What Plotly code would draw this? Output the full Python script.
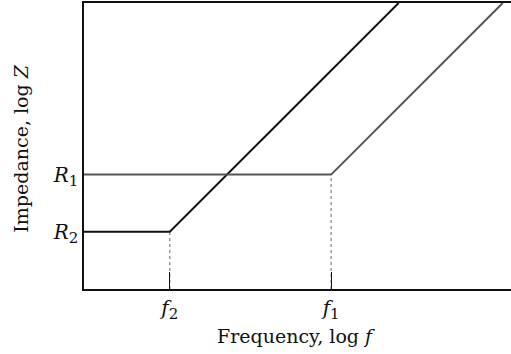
import plotly.graph_objects as go

# Break frequencies and low-frequency impedance levels (log units)
sub = "<sub><span style='font-size:15px'>{}</span></sub>"
f_labels = ["<i>f</i>" + sub.format("2"), "<i>f</i>" + sub.format("1")]
f_breaks = [3.0, 8.64]
r_labels = ["<i>R</i>" + sub.format("2"), "<i>R</i>" + sub.format("1")]
r_levels = [2.0, 4.0]
line_colors = ["#111111", "#555555"]

x_max = 14.93
y_max = 10.0

fig = go.Figure()

# Dotted guides from each break point down to the frequency axis
for fb, rl in zip(f_breaks, r_levels):
    fig.add_trace(go.Scatter(
        x=[fb, fb], y=[0, rl], mode="lines",
        line=dict(color="#666666", width=1, dash="dot"),
        hoverinfo="skip", showlegend=False))

# Impedance asymptotes: flat at R, then rising with unit slope past the break
for fb, rl, col in zip(f_breaks, r_levels, line_colors):
    x_top = fb + (y_max - rl)
    fig.add_trace(go.Scatter(
        x=[0, fb, x_top], y=[rl, rl, y_max], mode="lines",
        line=dict(color=col, width=2),
        hoverinfo="skip", showlegend=False))

font = "DejaVu Serif, Liberation Serif, serif"

fig.update_layout(
    width=511, height=354,
    margin=dict(l=84, r=0, t=3, b=65),
    paper_bgcolor="white", plot_bgcolor="white",
    font=dict(family=font, size=20, color="#111111"),
    xaxis=dict(
        range=[0, x_max], showgrid=False, zeroline=False,
        showline=True, mirror=True, linecolor="#111111", linewidth=1.5,
        tickmode="array", tickvals=f_breaks, ticktext=f_labels,
        ticks="inside", ticklen=17, tickwidth=1.2, tickcolor="#111111",
        tickfont=dict(size=20),
    ),
    yaxis=dict(
        range=[0, y_max], showgrid=False, zeroline=False,
        showline=True, mirror=False, linecolor="#111111", linewidth=1.5,
        tickmode="array", tickvals=r_levels, ticktext=r_labels,
        ticks="", tickfont=dict(size=20),
    ),
    annotations=[
        dict(text="Frequency, log <i>f</i>", xref="paper", yref="paper",
             x=0.497, y=-0.165, xanchor="center", yanchor="middle",
             showarrow=False, font=dict(size=19)),
        dict(text="Impedance, log <i>Z</i>", xref="paper", yref="paper",
             x=-0.148, y=0.49, xanchor="center", yanchor="middle",
             textangle=-90, showarrow=False, font=dict(size=19)),
    ],
)

fig.write_html("out.html")
